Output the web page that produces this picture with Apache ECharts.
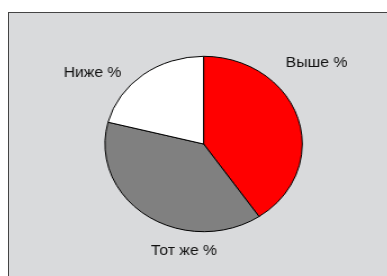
<!DOCTYPE html>
<html>
<head>
<meta charset="utf-8">
<script src="https://cdn.jsdelivr.net/npm/echarts@6/dist/echarts.min.js"></script>
<style>
body { margin: 0; background: #fff; }
#frame {
    position: absolute; left: 8px; top: 12px; width: 400px; height: 280px;
    background: #d9dadc; border-left: 1px solid #444; border-top: 1px solid #444;
}
#pie { position: absolute; left: 0; top: 0; width: 387px; height: 276px; }
/* the original picture is stretched sideways, pie is an ellipse */
#pie { transform: scaleX(1.125); transform-origin: 203.6px 144px; }
</style>
</head>
<body>
<div id="frame"></div>
<div id="pie"></div>
<script>
var names = ['Выше %', 'Тот же %', 'Ниже %']
var values = [40.5, 38.5, 21]
var colors = ['#ff0000', '#808080', '#ffffff']
var stretch = 1.125
var cx = 203.6, cy = 144
// label centres as seen on the final (stretched) picture
var labelPos = [[316.5, 63.5], [184, 251], [92.5, 73]]

var myChart = echarts.init(document.getElementById('pie'))
myChart.setOption({
    animation: false,
    series: [{
        type: 'pie',
        center: [cx, cy],
        radius: 87.7,
        startAngle: 90,
        clockwise: true,
        label: {
            show: true,
            position: 'outside',
            formatter: '{b}',
            overflow: 'none',
            fontFamily: 'Liberation Sans',
            fontSize: 14,
            color: '#111'
        },
        labelLine: { show: false },
        labelLayout: function (p) {
            var xy = labelPos[p.dataIndex]
            return {
                x: cx + (xy[0] - cx) / stretch,
                y: xy[1],
                align: 'center',
                verticalAlign: 'middle'
            }
        },
        itemStyle: { borderColor: '#000', borderWidth: 1 },
        emphasis: { disabled: true },
        data: names.map(function (n, i) {
            return { name: n, value: values[i], itemStyle: { color: colors[i] } }
        })
    }]
})
</script>
</body>
</html>
